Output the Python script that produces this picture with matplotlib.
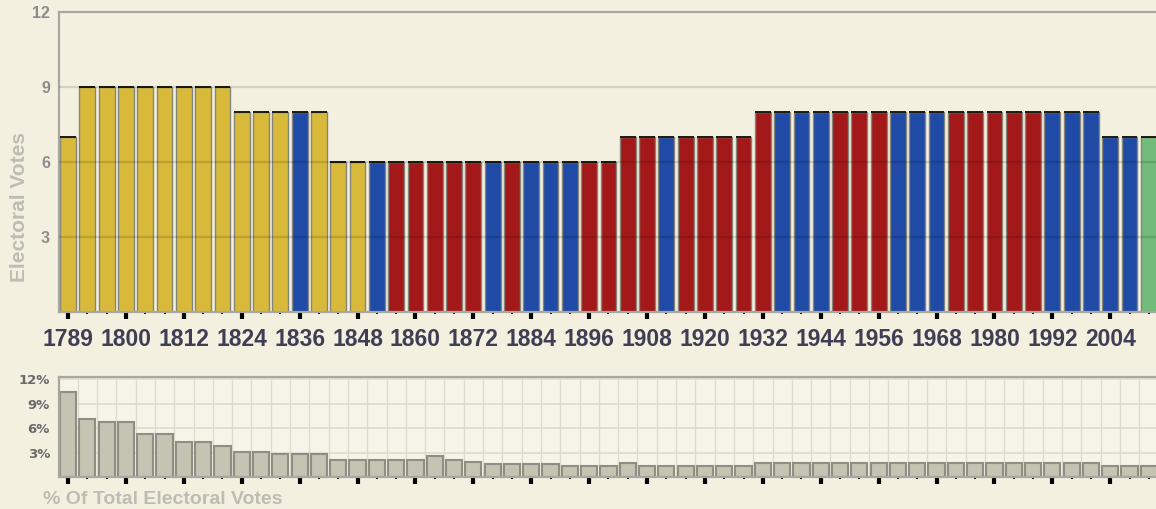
import numpy as np
import matplotlib
matplotlib.use('Agg')
import matplotlib.pyplot as plt

# election years, one bar each
years = [1789, 1792, 1796, 1800, 1804, 1808, 1812, 1816, 1820, 1824, 1828, 1832,
         1836, 1840, 1844, 1848, 1852, 1856, 1860, 1864, 1868, 1872, 1876, 1880,
         1884, 1888, 1892, 1896, 1900, 1904, 1908, 1912, 1916, 1920, 1924, 1928,
         1932, 1936, 1940, 1944, 1948, 1952, 1956, 1960, 1964, 1968, 1972, 1976,
         1980, 1984, 1988, 1992, 1996, 2000, 2004, 2008, 2012]

# electoral votes of the state
votes = [7, 9, 9, 9, 9, 9, 9, 9, 9, 8, 8, 8,
         8, 8, 6, 6, 6, 6, 6, 6, 6, 6, 6, 6,
         6, 6, 6, 6, 6, 7, 7, 7, 7, 7, 7, 7,
         8, 8, 8, 8, 8, 8, 8, 8, 8, 8, 8, 8,
         8, 8, 8, 8, 8, 8, 7, 7, 7]

# winner: Y = other/early, D = democrat, R = republican, G = pending
party = ['Y'] * 12 + ['D'] + ['Y'] * 3 + ['D'] + ['R'] * 5 + ['D', 'R'] + ['D'] * 3 + \
        ['R'] * 4 + ['D'] + ['R'] * 5 + ['D'] * 3 + ['R'] * 3 + ['D'] * 3 + ['R'] * 5 + \
        ['D'] * 5 + ['G']

# share of the total electoral votes (%)
pct = [10.5, 7.1, 6.8, 6.8, 5.3, 5.3, 4.35, 4.35, 3.87, 3.13, 3.13, 2.85,
       2.85, 2.85, 2.12, 2.12, 2.12, 2.12, 2.12, 2.64, 2.12, 1.91, 1.63, 1.63,
       1.63, 1.63, 1.42, 1.42, 1.42, 1.71, 1.42, 1.42, 1.42, 1.42, 1.42, 1.42,
       1.71, 1.71, 1.71, 1.71, 1.71, 1.71, 1.71, 1.71, 1.71, 1.71, 1.71, 1.71,
       1.71, 1.71, 1.71, 1.71, 1.71, 1.71, 1.42, 1.42, 1.42]

colors = {'Y': '#d8b93a', 'D': '#1f4aa6', 'R': '#a3191a', 'G': '#72bb7a'}
bg = '#f3f0e0'

x = np.arange(len(years))
major = x[::3]
minor = [i for i in x if i % 3 != 0]

fig = plt.figure(figsize=(11.56, 5.09), dpi=100)
fig.patch.set_facecolor(bg)

W = 1156.0
H = 509.0
left = 59 / W
width = 1099.5 / W

# ---- top panel: electoral votes ----
ax = fig.add_axes([left, 1 - 311.5 / H, width, (311.5 - 12) / H])
ax.set_facecolor(bg)
ax.bar(x, votes, width=0.82, color=[colors[p] for p in party],
       edgecolor='#85857a', linewidth=1.0, zorder=2)
ax.hlines(votes, x - 0.41, x + 0.41, color='#1a1a10', linewidth=1.4, zorder=3)
for v in [3, 6, 9]:
    ax.axhline(v, color='black', alpha=0.13, linewidth=1.6, zorder=4)
ax.set_xlim(-0.47, 56.5)
ax.set_ylim(0, 12)
ax.set_yticks([3, 6, 9, 12])
ax.set_yticklabels(['3', '6', '9', '12'], family='Liberation Sans',
                   fontweight='bold', fontsize=11.5, color='#8c8c8c')
ax.tick_params(axis='y', length=0, pad=6.5)
ax.set_xticks(major)
ax.set_xticklabels([str(years[i]) for i in major], family='Liberation Sans',
                   fontweight='bold', fontsize=16.5, color='#3e3e54')
ax.set_xticks(minor, minor=True)
ax.tick_params(axis='x', which='major', direction='out', length=4.7, width=3.0,
               color='black', pad=7.5)
ax.tick_params(axis='x', which='minor', direction='out', length=1.5, width=1.5,
               color='black')
for s in ['left', 'bottom', 'top']:
    ax.spines[s].set_color('#a8a8a0')
    ax.spines[s].set_linewidth(1.6)
ax.spines['right'].set_visible(False)

fig.text(19.5 / W, 1 - 207 / H, 'Electoral Votes', rotation=90, ha='center',
         va='center', family='Liberation Sans', fontweight='bold', fontsize=15,
         color='#bdbdb3')

# ---- bottom panel: share of total ----
ax2 = fig.add_axes([left, 1 - 477.3 / H, width, 100 / H])
ax2.set_facecolor('#f6f4e8')
for i in x:
    ax2.axvline(i + 0.5, color='#dddbcc', linewidth=1.0, zorder=0)
for v in [3, 6, 9, 12]:
    ax2.axhline(v, color='#dddbcc', linewidth=1.2, zorder=0)
ax2.bar(x, pct, width=0.84, color='#c5c4b2', edgecolor='#8e8e84',
        linewidth=1.5, zorder=2)
ax2.set_xlim(-0.47, 56.5)
ax2.set_ylim(0, 12.25)
ax2.set_yticks([3, 6, 9, 12])
ax2.set_yticklabels(['3%', '6%', '9%', '12%'], family='DejaVu Sans',
                    fontweight='bold', fontsize=9.5, color='#6a6a6a')
ax2.tick_params(axis='y', length=0, pad=6.5)
ax2.set_xticks(major)
ax2.set_xticklabels([])
ax2.set_xticks(minor, minor=True)
ax2.tick_params(axis='x', which='major', direction='out', length=4.7, width=3.0,
                color='black')
ax2.tick_params(axis='x', which='minor', direction='out', length=1.5, width=1.5,
                color='black')
for s in ['left', 'bottom', 'top']:
    ax2.spines[s].set_color('#a8a8a0')
    ax2.spines[s].set_linewidth(1.6)
ax2.spines['right'].set_visible(False)

fig.text(43 / W, 1 - 500 / H, '% Of Total Electoral Votes', ha='left',
         va='center', family='Liberation Sans', fontweight='bold', fontsize=14,
         color='#bdbdb3')

fig.savefig('out.png', dpi=100, facecolor=fig.get_facecolor())
